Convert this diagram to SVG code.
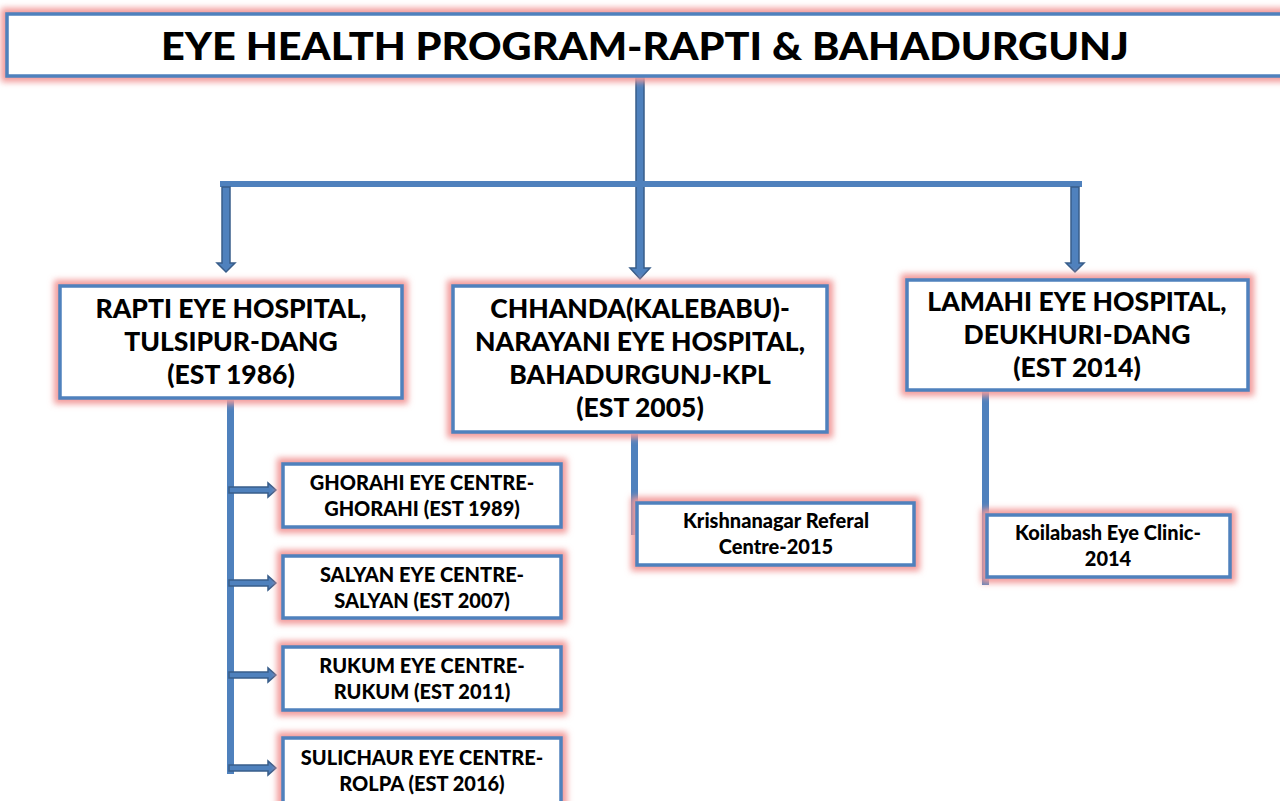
<svg xmlns="http://www.w3.org/2000/svg" width="1280" height="801" viewBox="0 0 1280 801">
<defs>
<filter id="blur" x="-20%" y="-40%" width="140%" height="180%"><feGaussianBlur stdDeviation="3"/></filter>
<style>
.glow{fill:none;stroke:#f29a9a;stroke-width:12;filter:url(#blur)}
.box{fill:#fff;stroke:#4f81bd;stroke-width:3.5}
.t{font-family:Lato,"Open Sans",sans-serif;font-weight:900;fill:#000;text-anchor:middle}
.big{font-size:26.5px}
.sm{font-size:20px}
.line{fill:#4f81bd}
.arr{fill:#4f81bd;stroke:#385d8a;stroke-width:1.5}
</style>
</defs>
<rect width="1280" height="801" fill="#fff"/>
<g id="connectors">
<path class="arr" d="M636,77 H644 V268 H650 L640,279 L630,268 H636 Z"/>
<rect class="line" x="220" y="181" width="862" height="6"/>
<path class="arr" d="M222,187 H230 V263 H235 L226,272 L217,263 H222 Z"/>
<path class="arr" d="M1071,187 H1079 V263 H1084 L1075,272 L1066,263 H1071 Z"/>
<rect class="line" x="227" y="400" width="7" height="374"/>
<path class="arr" d="M229,487 H268 V483 L276,490 L268,497 V493 H229 Z"/>
<path class="arr" d="M229,580 H268 V576 L276,583 L268,590 V586 H229 Z"/>
<path class="arr" d="M229,672 H268 V668 L276,675 L268,682 V678 H229 Z"/>
<path class="arr" d="M229,765 H268 V761 L276,768 L268,775 V771 H229 Z"/>
<rect class="line" x="631" y="434" width="7" height="101"/>
<rect class="line" x="982" y="390" width="7" height="195"/>
</g>
<g id="title">
<rect class="glow" x="7" y="14" width="1290" height="62"/>
<rect class="box" x="7" y="14" width="1290" height="62"/>
<text class="t" x="645" y="60" font-size="38" font-weight="bold" textLength="968" lengthAdjust="spacingAndGlyphs">EYE HEALTH PROGRAM-RAPTI &amp; BAHADURGUNJ</text>
</g>
<g id="rapti">
<rect class="glow" x="60" y="286" width="342" height="112"/>
<rect class="box" x="60" y="286" width="342" height="112"/>
<text class="t big" x="231" y="318">RAPTI EYE HOSPITAL,</text>
<text class="t big" x="231" y="351">TULSIPUR-DANG</text>
<text class="t big" x="231" y="384">(EST 1986)</text>
</g>
<g id="chhanda">
<rect class="glow" x="453" y="286" width="374" height="146"/>
<rect class="box" x="453" y="286" width="374" height="146"/>
<text class="t big" x="640" y="318">CHHANDA(KALEBABU)-</text>
<text class="t big" x="640" y="351">NARAYANI EYE HOSPITAL,</text>
<text class="t big" x="640" y="384">BAHADURGUNJ-KPL</text>
<text class="t big" x="640" y="417">(EST 2005)</text>
</g>
<g id="lamahi">
<rect class="glow" x="907" y="280" width="341" height="110"/>
<rect class="box" x="907" y="280" width="341" height="110"/>
<text class="t big" x="1077" y="311">LAMAHI EYE HOSPITAL,</text>
<text class="t big" x="1077" y="344">DEUKHURI-DANG</text>
<text class="t big" x="1077" y="377">(EST 2014)</text>
</g>
<g id="ghorahi">
<rect class="glow" x="283" y="464" width="278" height="63"/>
<rect class="box" x="283" y="464" width="278" height="63"/>
<text class="t sm" x="422" y="490">GHORAHI EYE CENTRE-</text>
<text class="t sm" x="422" y="516">GHORAHI (EST 1989)</text>
</g>
<g id="salyan">
<rect class="glow" x="283" y="556" width="278" height="62"/>
<rect class="box" x="283" y="556" width="278" height="62"/>
<text class="t sm" x="422" y="582">SALYAN EYE CENTRE-</text>
<text class="t sm" x="422" y="608">SALYAN (EST 2007)</text>
</g>
<g id="rukum">
<rect class="glow" x="283" y="647" width="278" height="63"/>
<rect class="box" x="283" y="647" width="278" height="63"/>
<text class="t sm" x="422" y="673">RUKUM EYE CENTRE-</text>
<text class="t sm" x="422" y="699">RUKUM (EST 2011)</text>
</g>
<g id="sulichaur">
<rect class="glow" x="283" y="738" width="278" height="66"/>
<rect class="box" x="283" y="738" width="278" height="66"/>
<text class="t sm" x="422" y="765">SULICHAUR EYE CENTRE-</text>
<text class="t sm" x="422" y="791">ROLPA (EST 2016)</text>
</g>
<g id="krishnanagar">
<rect class="glow" x="637" y="503" width="277" height="62"/>
<rect class="box" x="637" y="503" width="277" height="62"/>
<text class="t sm" x="776" y="528">Krishnanagar Referal</text>
<text class="t sm" x="776" y="554">Centre-2015</text>
</g>
<g id="koilabash">
<rect class="glow" x="987" y="515" width="243" height="62"/>
<rect class="box" x="987" y="515" width="243" height="62"/>
<text class="t sm" x="1108" y="540">Koilabash Eye Clinic-</text>
<text class="t sm" x="1108" y="566">2014</text>
</g>
</svg>
